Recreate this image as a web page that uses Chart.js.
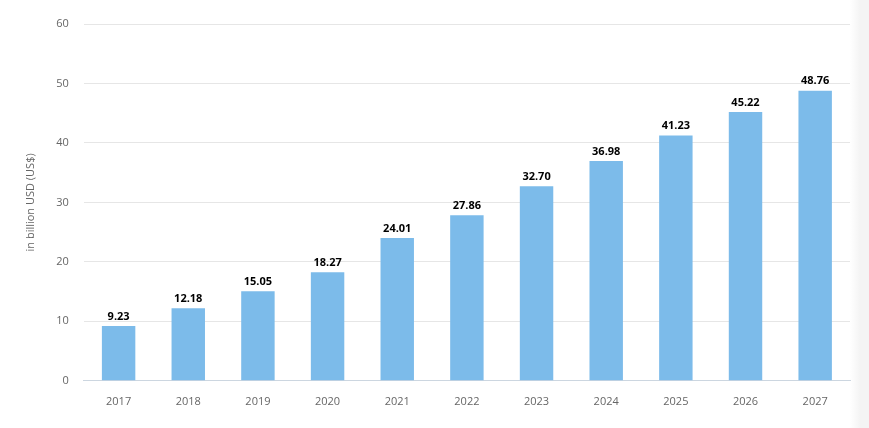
<!DOCTYPE html>
<html><head><meta charset="utf-8">
<script src="https://cdn.jsdelivr.net/npm/chart.js@4"></script>
<style>
html,body{margin:0;padding:0;background:#fff;}
#wrap{position:relative;width:869px;height:428px;background:linear-gradient(to right,#fff 0,#fff 850px,#f4f4f4 860px,#f4f4f4 869px);}
#box{position:absolute;left:0;top:0;width:852px;height:428px;}
</style></head><body>
<div id="wrap"><div id="box"><canvas id="c"></canvas></div></div>
<script>
const categories=["2017","2018","2019","2020","2021","2022","2023","2024","2025","2026","2027"];
const values=[9.23,12.18,15.05,18.27,24.01,27.86,32.70,36.98,41.23,45.22,48.76];
const yTicks=[0,10,20,30,40,50,60];
const labelPlugin={id:'lbl',afterDatasetsDraw(ch){const ctx=ch.ctx;const m=ch.getDatasetMeta(0);ctx.save();ctx.font='bold 11px "Open Sans", sans-serif';ctx.fillStyle='#000';ctx.textAlign='center';ctx.textBaseline='bottom';m.data.forEach((b,i)=>{ctx.fillText(values[i].toFixed(2),b.x,b.y-4);});ctx.restore();}};
new Chart(document.getElementById('c'),{type:'bar',data:{labels:categories,datasets:[{data:values,backgroundColor:'#7cbbea',barPercentage:0.48,categoryPercentage:1}]},
options:{responsive:true,maintainAspectRatio:false,animation:false,layout:{padding:{top:24,bottom:14,left:20,right:2}},
plugins:{legend:{display:false},tooltip:{enabled:false}},
scales:{x:{grid:{display:false},border:{color:'#ccd6e0'},ticks:{color:'#666',font:{family:'"Open Sans", sans-serif',size:11},padding:6}},
y:{min:0,max:60,afterBuildTicks(a){a.ticks=yTicks.map(v=>({value:v}));},grid:{color:'#e6e6e6',drawTicks:false},border:{display:false},ticks:{color:'#666',font:{family:'"Open Sans", sans-serif',size:11},padding:15},title:{display:true,text:'in billion USD (US$)',color:'#666',font:{family:'"Open Sans", sans-serif',size:11}}}}},
plugins:[labelPlugin]});
</script></body></html>
